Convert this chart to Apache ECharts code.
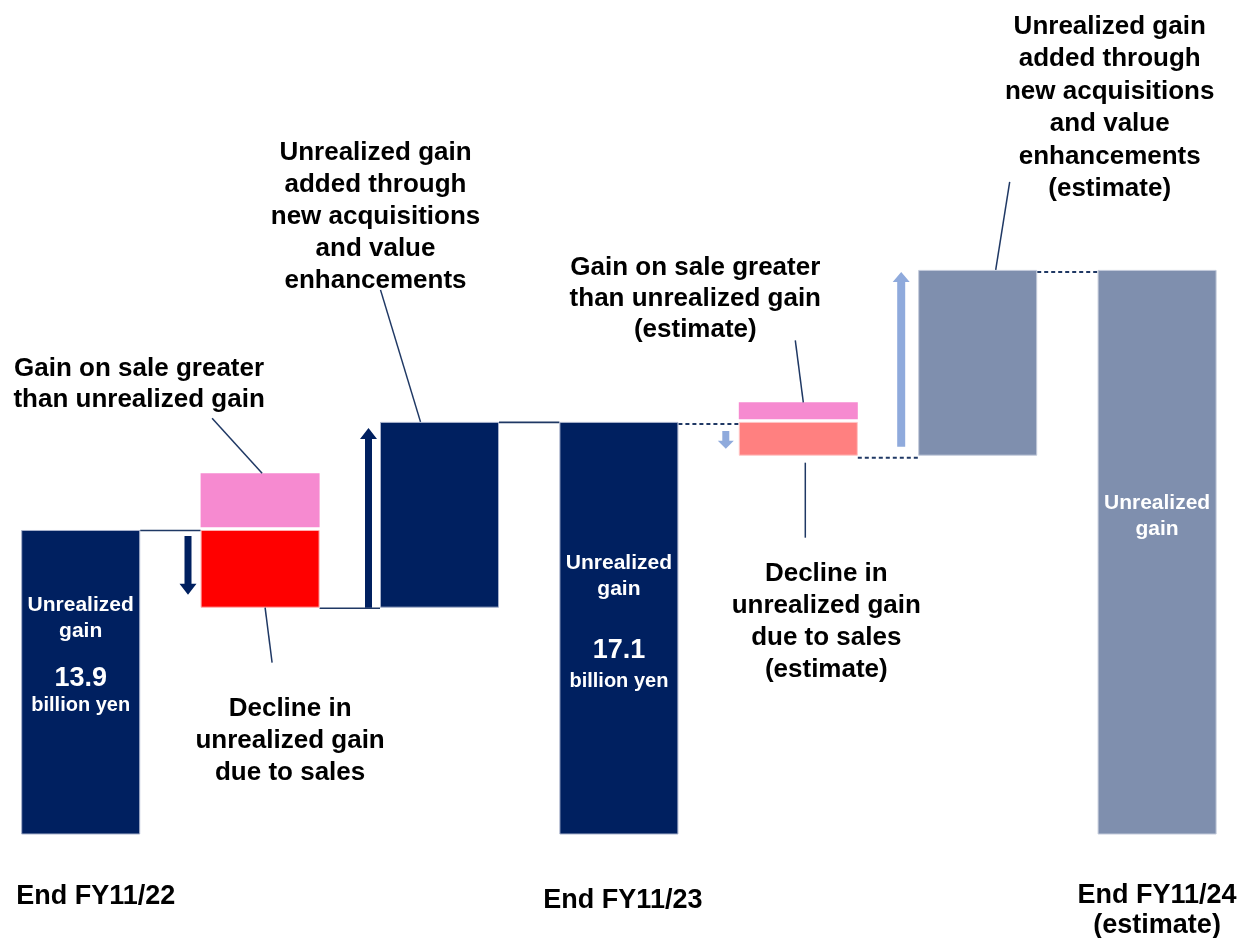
<!DOCTYPE html>
<html>
<head>
<meta charset="utf-8">
<script src="https://cdn.jsdelivr.net/npm/echarts@6/dist/echarts.min.js"></script>
<style>
  html, body { margin: 0; padding: 0; background: #ffffff; }
  #chart { width: 1252px; height: 938px; }
</style>
</head>
<body>
<div id="chart"></div>
<script>
// Unrealized gain bridge (billion yen): period-end balances and the flows between them
const categories = [
  'End FY11/22',
  'Sales FY11/23',
  'Additions FY11/23',
  'End FY11/23',
  'Sales FY11/24 (estimate)',
  'Additions FY11/24 (estimate)',
  'End FY11/24\n(estimate)'
];
const balances = [13.9, 17.1, 21.6];            // unrealized gain at each period end
const saleDeclines = [2.3, 1.0];                // unrealized gain released through sales
const acquisitionGains = [5.5, 5.5];            // added through new acquisitions and value enhancements
const saleGainsOverUnrealized = [1.6, 0.5];     // gain on sale greater than the unrealized gain

const noteTexts = [
  'Gain on sale greater\nthan unrealized gain',
  'Unrealized gain\nadded through\nnew acquisitions\nand value\nenhancements',
  'Decline in\nunrealized gain\ndue to sales',
  'Gain on sale greater\nthan unrealized gain\n(estimate)',
  'Decline in\nunrealized gain\ndue to sales\n(estimate)',
  'Unrealized gain\nadded through\nnew acquisitions\nand value\nenhancements\n(estimate)'
];

// ---- palette and sizes ----
const FONT = '"Liberation Sans", Arial, Helvetica, sans-serif';
const NAVY = '#002060';
const NAVY_HALF = '#7f8fae';
const RED = '#ff0000';
const RED_HALF = '#ff8080';
const PINK = '#f68ad0';
const ARROW_LIGHT = '#8faadc';
const LINE_NAVY = '#1f3864';
const BAR_W = 119;
const PINK_GAP = 0.08;

// ---- derived series ----
const lowAfterSale = [balances[0] - saleDeclines[0], balances[1] - saleDeclines[1]];
const dash = '-';

const balanceData = [
  { value: balances[0] },
  dash, dash,
  { value: balances[1] },
  dash, dash,
  { value: balances[2], itemStyle: { color: NAVY_HALF, borderColor: '#c3cadb' } }
];
const offsetData = [dash, lowAfterSale[0], lowAfterSale[0], dash, lowAfterSale[1], lowAfterSale[1], dash];
const declineData = [dash, saleDeclines[0], dash, dash,
  { value: saleDeclines[1], itemStyle: { color: RED_HALF, borderColor: '#ffc4c4' } }, dash, dash];
const acquisitionData = [dash, dash, acquisitionGains[0], dash, dash,
  { value: acquisitionGains[1], itemStyle: { color: NAVY_HALF, borderColor: '#c3cadb' } }, dash];
const gapData = [dash, PINK_GAP, dash, dash, PINK_GAP, dash, dash];
const pinkData = [dash, saleGainsOverUnrealized[0], dash, dash, saleGainsOverUnrealized[1], dash, dash];

// labels inside the period-end bars
function balanceLabel(lines, distance, spacer, unitLine) {
  return {
    show: true,
    position: 'insideTop',
    distance: distance,
    color: '#ffffff',
    fontFamily: FONT,
    fontWeight: 'bold',
    formatter: lines,
    rich: {
      t: { fontSize: 21, lineHeight: 26, fontWeight: 'bold', fontFamily: FONT, color: '#fff' },
      s: { fontSize: 4, lineHeight: spacer },
      n: { fontSize: 27, lineHeight: 30, fontWeight: 'bold', fontFamily: FONT, color: '#fff' },
      u: { fontSize: 20, lineHeight: unitLine, fontWeight: 'bold', fontFamily: FONT, color: '#fff' }
    }
  };
}
balanceData[0].label = balanceLabel('{t|Unrealized}\n{t|gain}\n{s| }\n{n|' + balances[0] + '}\n{u|billion yen}', 62, 20, 22);
balanceData[3].label = balanceLabel('{t|Unrealized}\n{t|gain}\n{s| }\n{n|' + balances[1] + '}\n{u|billion yen}', 128, 34, 32);
balanceData[6].label = balanceLabel('{t|Unrealized}\n{t|gain}', 220, 0, 20);

// connectors between neighbouring bars: [fromCategory, level, dashed]
const connectorData = [
  [0, balances[0], 0],
  [1, lowAfterSale[0], 0],
  [2, balances[1], 0],
  [3, balances[1], 1],
  [4, lowAfterSale[1], 1],
  [5, balances[2], 1]
];

// flow arrows: [category, fromValue, toValue]
const arrowData = [
  [1, balances[0], lowAfterSale[0]],
  [2, lowAfterSale[0], balances[1]],
  [4, balances[1], lowAfterSale[1]],
  [5, lowAfterSale[1], balances[2]]
];
const arrowStyle = [
  { color: NAVY, dx: 12.6, inStart: 6, inEnd: 13, shaft: 7, head: 17, headLen: 11 },
  { color: NAVY, dx: 11.5, inStart: 0, inEnd: 6, shaft: 7, head: 17, headLen: 11 },
  { color: ARROW_LIGHT, dx: 13, inStart: 9, inEnd: 7, shaft: 7, head: 16, headLen: 8 },
  { color: ARROW_LIGHT, dx: 17, inStart: 9, inEnd: 2, shaft: 8, head: 17, headLen: 10 }
];

// callouts anchored on bar edges: [category, value]
const noteData = [
  [1, balances[0] + PINK_GAP + saleGainsOverUnrealized[0]],
  [2, balances[1]],
  [1, lowAfterSale[0]],
  [4, balances[1] + PINK_GAP + saleGainsOverUnrealized[1]],
  [4, lowAfterSale[1]],
  [5, balances[2]]
];
const noteLayout = [
  { leader: [2, 0, -48, -55], text: [-121, -89], lh: 31 },
  { leader: [-19, 0, -59, -132], text: [-64, -205], lh: 32 },
  { leader: [5, 0, 12, 55], text: [30, 133], lh: 32 },
  { leader: [5, 0, -3, -62], text: [-103, -103], lh: 31 },
  { leader: [7, 7, 7, 82], text: [28, 166], lh: 32 },
  { leader: [18, 0, 32, -88], text: [132, -162], lh: 32.4 }
];

function renderConnector(params, api) {
  const cat = api.value(0);
  const a = api.coord([cat, api.value(1)]);
  const b = api.coord([cat + 1, api.value(1)]);
  const dashed = api.value(2) === 1;
  return {
    type: 'line',
    shape: { x1: a[0] + BAR_W / 2, y1: a[1] + (dashed ? 2 : 0.5), x2: b[0] - BAR_W / 2, y2: a[1] + (dashed ? 2 : 0.5) },
    style: { stroke: LINE_NAVY, lineWidth: dashed ? 2 : 1.6, lineDash: dashed ? [4, 3] : null }
  };
}

function renderArrow(params, api) {
  const s = arrowStyle[params.dataIndex];
  const cat = api.value(0);
  const p1 = api.coord([cat, api.value(1)]);
  const p2 = api.coord([cat, api.value(2)]);
  const x = p1[0] - BAR_W / 2 - s.dx;
  const down = p2[1] > p1[1];
  const dir = down ? 1 : -1;
  const y1 = p1[1] + dir * s.inStart;
  const y2 = p2[1] - dir * s.inEnd;
  const yb = y2 - dir * s.headLen;
  const hs = s.shaft / 2, hh = s.head / 2;
  return {
    type: 'polygon',
    shape: { points: [
      [x - hs, y1], [x + hs, y1], [x + hs, yb], [x + hh, yb],
      [x, y2], [x - hh, yb], [x - hs, yb]
    ] },
    style: { fill: s.color }
  };
}

function renderNote(params, api) {
  const n = noteLayout[params.dataIndex];
  const p = api.coord([api.value(0), api.value(1)]);
  return {
    type: 'group',
    children: [
      {
        type: 'line',
        shape: { x1: p[0] + n.leader[0], y1: p[1] + n.leader[1], x2: p[0] + n.leader[2], y2: p[1] + n.leader[3] },
        style: { stroke: LINE_NAVY, lineWidth: 1.5 }
      },
      {
        type: 'text',
        x: p[0] + n.text[0],
        y: p[1] + n.text[1],
        style: {
          text: noteTexts[params.dataIndex],
          align: 'center',
          verticalAlign: 'middle',
          font: 'bold 26px ' + FONT,
          lineHeight: n.lh,
          fill: '#000000'
        }
      }
    ]
  };
}

const chart = echarts.init(document.getElementById('chart'), null, { renderer: 'canvas' });

const barBase = { type: 'bar', stack: 'bridge', barWidth: BAR_W, animation: false, silent: true };

chart.setOption({
  backgroundColor: '#ffffff',
  animation: false,
  grid: { left: -9, right: 5.2, top: 87.5, bottom: 104, outerBoundsMode: 'none', containLabel: false },
  xAxis: {
    type: 'category',
    data: categories,
    axisLine: { show: false },
    axisTick: { show: false },
    splitLine: { show: false },
    axisLabel: {
      interval: 0,
      margin: 47,
      color: '#000',
      fontFamily: FONT,
      fontWeight: 'bold',
      fontSize: 27,
      formatter: function (value, index) {
        if (index === 0) return '{a|' + value + '}';
        if (index === 3) return '{b|' + value + '}';
        if (index === 6) return value.split('\n').map(function (l) { return '{c|' + l + '}'; }).join('\n');
        return '';
      },
      rich: {
        a: { fontSize: 27, fontWeight: 'bold', fontFamily: FONT, color: '#000', lineHeight: 32, padding: [0, 0, 0, 30] },
        b: { fontSize: 27, fontWeight: 'bold', fontFamily: FONT, color: '#000', lineHeight: 40, padding: [0, 0, 0, 8] },
        c: { fontSize: 27, fontWeight: 'bold', fontFamily: FONT, color: '#000', lineHeight: 30 }
      }
    }
  },
  yAxis: { type: 'value', min: 4.9, max: 27, show: false, splitLine: { show: false } },
  series: [
    { type: 'custom', name: 'connectors', renderItem: renderConnector, data: connectorData,
      encode: { x: 0, y: 1 }, z: 1, silent: true, clip: false },
    Object.assign({}, barBase, { name: 'Unrealized gain', data: balanceData, z: 2,
      itemStyle: { color: NAVY, borderColor: '#a7b1cb', borderWidth: 1 } }),
    Object.assign({}, barBase, { name: 'offset', data: offsetData, z: 2,
      itemStyle: { color: 'rgba(0,0,0,0)' } }),
    Object.assign({}, barBase, { name: 'Decline due to sales', data: declineData, z: 2,
      itemStyle: { color: RED, borderColor: '#ffb0b0', borderWidth: 1 } }),
    Object.assign({}, barBase, { name: 'Acquisitions and value enhancements', data: acquisitionData, z: 2,
      itemStyle: { color: NAVY, borderColor: '#a7b1cb', borderWidth: 1 } }),
    Object.assign({}, barBase, { name: 'gap', data: gapData, z: 2,
      itemStyle: { color: 'rgba(0,0,0,0)' } }),
    Object.assign({}, barBase, { name: 'Gain on sale greater than unrealized gain', data: pinkData, z: 2,
      itemStyle: { color: PINK } }),
    { type: 'custom', name: 'arrows', renderItem: renderArrow, data: arrowData,
      encode: { x: 0, y: [1, 2] }, z: 3, silent: true, clip: false },
    { type: 'custom', name: 'notes', renderItem: renderNote, data: noteData,
      encode: { x: 0, y: 1 }, z: 4, silent: true, clip: false }
  ]
});
</script>
</body>
</html>
